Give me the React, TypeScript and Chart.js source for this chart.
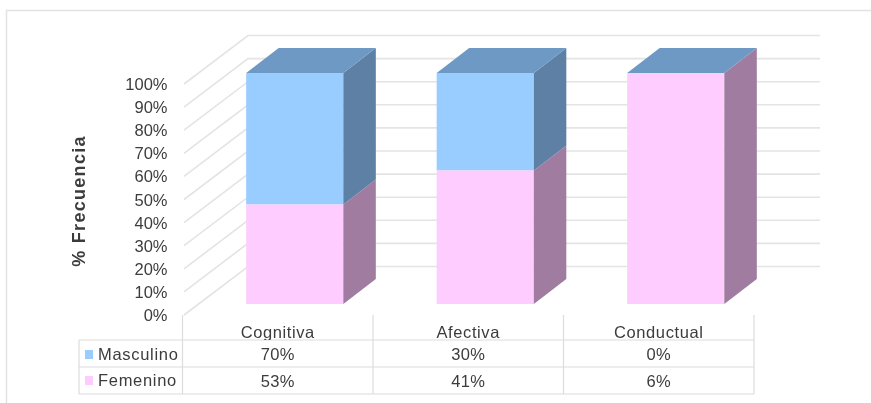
import React, { useEffect, useRef } from "react";
import { Chart, registerables } from "chart.js";

Chart.register(...registerables);

const categories = ["Cognitiva", "Afectiva", "Conductual"];
const masculino = [70, 30, 0];
const femenino = [53, 41, 6];
const masculinoLabels = ["70%", "30%", "0%"];
const femeninoLabels = ["53%", "41%", "6%"];
const axisTitle = "% Frecuencia";

const BLUE = "#99ccff";
const PINK = "#ffccff";
const BLUE_SIDE = "#5f80a5";
const PINK_SIDE = "#a07da0";
const TOP_FACE = "#6e99c4";
const TEXT = "#3c3c3c";
const GRID = "#e4e4e4";
const RULE = "#dcdcdc";
const FONT = '"Liberation Sans", Arial, sans-serif';

// Depth of the extruded columns and the receding walls.
const DEPTH_X = 32.5;
const DEPTH_Y = 25;
const WALL_LEFT = 184;
const WALL_BACK = 248;
const WALL_RIGHT = 820;

// The table sits under the floor, shifted left of the column fronts.
const TABLE_SHIFT = 17;
const ROW_TOP = 340;
const ROW_MID = 367;
const ROW_END = 394;
const TABLE_START = 315;
const KEY_LEFT = 79;

const share = (part: number, other: number) => (part / (part + other)) * 100;
const femeninoShare = femenino.map((v, i) => share(v, masculino[i]));
const masculinoShare = masculino.map((v, i) => share(v, femenino[i]));

function poly(ctx: CanvasRenderingContext2D, pts: number[][], fill: string) {
  ctx.beginPath();
  pts.forEach(([x, y], i) => (i ? ctx.lineTo(x, y) : ctx.moveTo(x, y)));
  ctx.closePath();
  ctx.fillStyle = fill;
  ctx.fill();
}

const framePlugin = {
  id: "frame",
  beforeDraw(chart: any) {
    const { ctx, width, height } = chart;
    ctx.save();
    ctx.fillStyle = "#ffffff";
    ctx.fillRect(0, 0, width, height);
    ctx.strokeStyle = "#e2e2e2";
    ctx.lineWidth = 1.5;
    ctx.beginPath();
    ctx.moveTo(6.5, height);
    ctx.lineTo(6.5, 10.5);
    ctx.lineTo(width, 10.5);
    ctx.stroke();
    ctx.restore();
  },
};

// Back wall and side wall lines, one per tick of the value scale.
const wallsPlugin = {
  id: "walls",
  beforeDatasetsDraw(chart: any) {
    const { ctx } = chart;
    const y = chart.scales.y;
    ctx.save();
    ctx.strokeStyle = GRID;
    ctx.lineWidth = 1.6;
    y.ticks.forEach((t: any) => {
      const p = y.getPixelForValue(t.value);
      ctx.beginPath();
      ctx.moveTo(WALL_LEFT, p + 11);
      ctx.lineTo(WALL_BACK, p - 37.5);
      ctx.lineTo(WALL_RIGHT, p - 37.5);
      ctx.stroke();
    });
    ctx.restore();
  },
};

// Side and top faces extruded from each column's front rectangle.
const extrudePlugin = {
  id: "extrude",
  afterDatasetsDraw(chart: any) {
    const { ctx } = chart;
    const shades = [PINK_SIDE, BLUE_SIDE];
    ctx.save();
    [0, 1].forEach((d) => {
      chart.getDatasetMeta(d).data.forEach((bar: any) => {
        const right = bar.x + bar.width / 2;
        poly(
          ctx,
          [
            [right, bar.y],
            [right + DEPTH_X, bar.y - DEPTH_Y],
            [right + DEPTH_X, bar.base - DEPTH_Y],
            [right, bar.base],
          ],
          shades[d]
        );
      });
    });
    chart.getDatasetMeta(1).data.forEach((bar: any) => {
      const l = bar.x - bar.width / 2;
      const r = bar.x + bar.width / 2;
      poly(
        ctx,
        [
          [l, bar.y],
          [r, bar.y],
          [r + DEPTH_X, bar.y - DEPTH_Y],
          [l + DEPTH_X, bar.y - DEPTH_Y],
        ],
        TOP_FACE
      );
    });
    ctx.restore();
  },
};

// Axis title and the data table with its colour keys.
const tablePlugin = {
  id: "table",
  afterDraw(chart: any) {
    const { ctx } = chart;
    const x = chart.scales.x;
    const centers = categories.map((_, i) => x.getPixelForValue(i) - TABLE_SHIFT);
    const step = centers[1] - centers[0];
    const edges = [centers[0] - step / 2, centers[0] + step / 2, centers[1] + step / 2, centers[2] + step / 2];
    ctx.save();

    ctx.save();
    ctx.translate(80, 201);
    ctx.rotate(-Math.PI / 2);
    ctx.font = `bold 18px ${FONT}`;
    ctx.letterSpacing = "1.3px";
    ctx.fillStyle = TEXT;
    ctx.textAlign = "center";
    ctx.textBaseline = "middle";
    ctx.fillText(axisTitle, 0, 0);
    ctx.restore();

    ctx.strokeStyle = RULE;
    ctx.lineWidth = 1.2;
    ctx.beginPath();
    edges.forEach((e) => {
      ctx.moveTo(e, TABLE_START);
      ctx.lineTo(e, ROW_END);
    });
    ctx.moveTo(KEY_LEFT, ROW_TOP);
    ctx.lineTo(KEY_LEFT, ROW_END);
    [ROW_TOP, ROW_MID, ROW_END].forEach((r) => {
      ctx.moveTo(KEY_LEFT, r);
      ctx.lineTo(edges[3], r);
    });
    ctx.stroke();

    ctx.font = `16.5px ${FONT}`;
    ctx.fillStyle = TEXT;
    ctx.textAlign = "center";
    ctx.textBaseline = "alphabetic";

    // Category names sit tight on the first rule, which trims their descenders.
    ctx.save();
    ctx.letterSpacing = "0.6px";
    ctx.beginPath();
    ctx.rect(edges[0], TABLE_START, edges[3] - edges[0], ROW_TOP - TABLE_START);
    ctx.clip();
    categories.forEach((c, i) => ctx.fillText(c, centers[i], 338));
    ctx.restore();

    ctx.letterSpacing = "0.3px";
    masculinoLabels.forEach((t, i) => ctx.fillText(t, centers[i], 360));
    femeninoLabels.forEach((t, i) => ctx.fillText(t, centers[i], 387));

    ctx.letterSpacing = "0.7px";
    ctx.textAlign = "left";
    ctx.fillText(chart.data.datasets[1].label, 98, 360);
    ctx.fillText(chart.data.datasets[0].label, 98, 386);
    ctx.fillStyle = BLUE;
    ctx.fillRect(85, 350, 8, 9);
    ctx.fillStyle = PINK;
    ctx.fillRect(85, 376, 8, 9);
    ctx.restore();
  },
};

export default function App() {
  const ref = useRef<HTMLCanvasElement>(null);

  useEffect(() => {
    const chart = new Chart(ref.current!, {
      type: "bar",
      data: {
        labels: categories,
        datasets: [
          { label: "Femenino", data: femeninoShare, backgroundColor: PINK, borderWidth: 0 },
          { label: "Masculino", data: masculinoShare, backgroundColor: BLUE, borderWidth: 0 },
        ],
      },
      options: {
        responsive: false,
        animation: false,
        events: [],
        layout: { padding: { left: 0, right: 100, top: 73, bottom: 99 } },
        datasets: { bar: { categoryPercentage: 1, barPercentage: 0.51 } },
        plugins: { legend: { display: false }, tooltip: { enabled: false } },
        scales: {
          x: { stacked: true, display: false },
          y: {
            stacked: true,
            min: 0,
            max: 100,
            grid: { display: false },
            border: { display: false },
            afterFit(scale: any) {
              scale.width = 199.5;
            },
            ticks: {
              stepSize: 10,
              padding: 24,
              labelOffset: 12.5,
              color: TEXT,
              font: { family: FONT, size: 16.5 },
              autoSkip: false,
              callback: (v: any) => `${v}%`,
            },
          },
        },
      } as any,
      plugins: [framePlugin, wallsPlugin, extrudePlugin, tablePlugin],
    });
    return () => chart.destroy();
  }, []);

  return (
    <div style={{ position: "absolute", left: 0, top: 0 }}>
      <canvas ref={ref} width={871} height={403} style={{ display: "block" }} />
    </div>
  );
}
